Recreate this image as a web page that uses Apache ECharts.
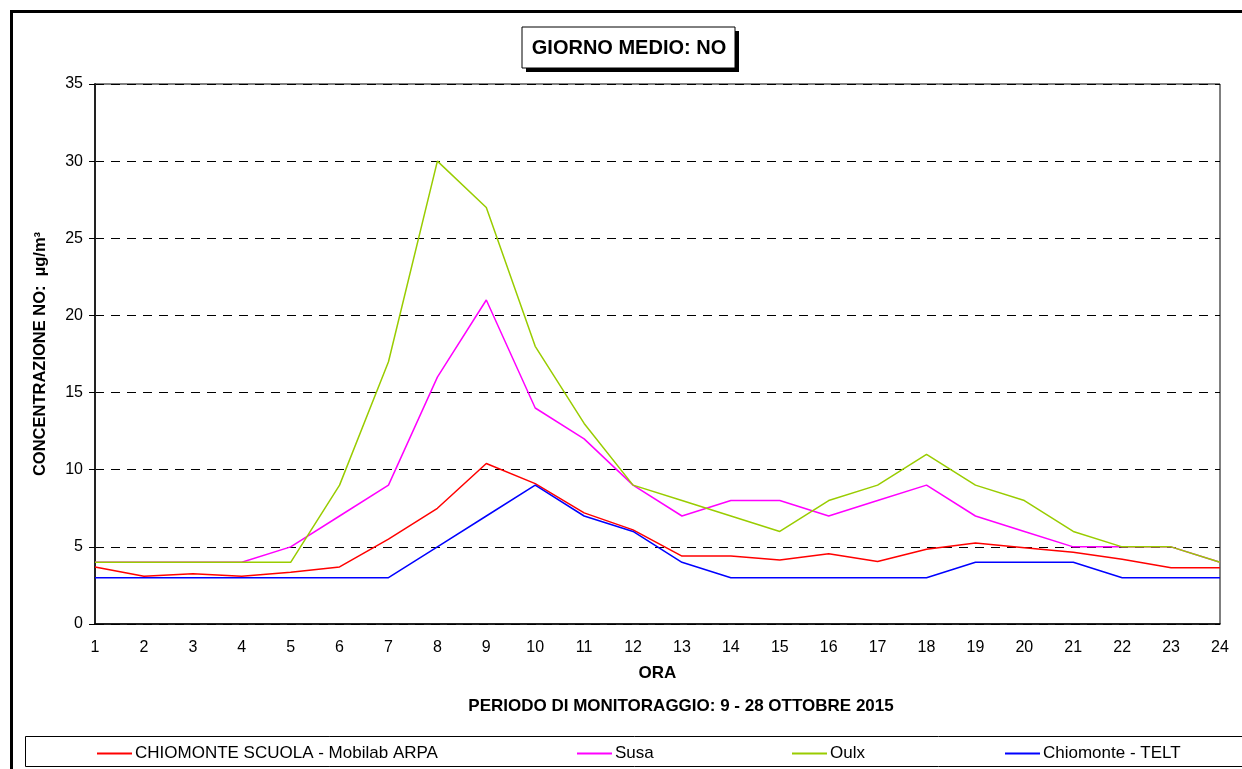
<!DOCTYPE html>
<html>
<head>
<meta charset="utf-8">
<script src="https://cdn.jsdelivr.net/npm/echarts@6/dist/echarts.min.js"></script>
<style>
  html, body { margin: 0; padding: 0; background: #fff; }
  #chartDom { width: 1242px; height: 769px; }
</style>
</head>
<body>
<div id="chartDom"></div>
<script>
// ore del giorno
const ore = ['1','2','3','4','5','6','7','8','9','10','11','12','13','14','15','16','17','18','19','20','21','22','23','24']

// giorno medio NO (µg/m3)
const chiomonteScuola = [3.7, 3.1, 3.25, 3.1, 3.35, 3.7, 5.5, 7.5, 10.4, 9.1, 7.2, 6.1, 4.4, 4.4, 4.15, 4.55, 4.05, 4.85, 5.25, 4.95, 4.65, 4.2, 3.65, 3.65]
const susa = [4, 4, 4, 4, 5, 7, 9, 16, 21, 14, 12, 9, 7, 8, 8, 7, 8, 9, 7, 6, 5, 5, 5, 4]
const oulx = [4, 4, 4, 4, 4, 9, 17, 30, 27, 18, 13, 9, 8, 7, 6, 8, 9, 11, 9, 8, 6, 5, 5, 4]
const chiomonteTelt = [3, 3, 3, 3, 3, 3, 3, 5, 7, 9, 7, 6, 4, 3, 3, 3, 3, 3, 4, 4, 4, 3, 3, 3]

const nomi = ['CHIOMONTE SCUOLA - Mobilab ARPA', 'Susa', 'Oulx', 'Chiomonte - TELT']
const colori = ['#ff0000', '#ff00ff', '#99cc00', '#0000ff']

const font = '"Liberation Sans", Arial, sans-serif'

function serie(name, data, color) {
  return {
    name: name,
    type: 'line',
    data: data,
    showSymbol: false,
    symbol: 'none',
    lineStyle: { color: color, width: 1.5 },
    itemStyle: { color: color },
    animation: false
  }
}

// una legenda per voce, come nel foglio originale
const legendLeft = [92, 572, 787, 1000]
const legende = nomi.map((n, i) => ({
  data: [n],
  left: legendLeft[i],
  top: 740,
  icon: 'rect',
  itemWidth: 35,
  itemHeight: 2,
  itemGap: 0,
  textStyle: { fontFamily: font, fontSize: 17, color: '#000', padding: [0, 0, 0, -2] },
  selectedMode: false
}))

var myChart = echarts.init(document.getElementById('chartDom'))

const option = {
  backgroundColor: '#fff',
  animation: false,
  legend: legende,
  grid: {
    left: 95,
    right: 22,
    top: 84,
    bottom: 145,
    show: true,
    borderColor: '#000',
    borderWidth: 1
  },
  xAxis: {
    type: 'category',
    boundaryGap: false,
    data: ore,
    name: 'ORA',
    nameLocation: 'middle',
    nameGap: 41,
    nameTextStyle: { fontFamily: font, fontSize: 17, fontWeight: 'bold', color: '#000' },
    axisLine: { lineStyle: { color: '#000', width: 1.5 } },
    axisTick: { show: false },
    axisLabel: { fontFamily: font, fontSize: 16, color: '#000', margin: 16 },
    splitLine: { show: false }
  },
  yAxis: {
    type: 'value',
    min: 0,
    max: 35,
    interval: 5,
    name: 'CONCENTRAZIONE NO:  µg/m³',
    nameLocation: 'middle',
    nameGap: 46,
    nameTextStyle: { fontFamily: font, fontSize: 16.5, fontWeight: 'bold', color: '#000' },
    axisLine: { show: true, lineStyle: { color: '#222', width: 2 } },
    axisTick: { show: true, length: 6, lineStyle: { color: '#000' } },
    axisLabel: { fontFamily: font, fontSize: 16, color: '#000', margin: 12 },
    splitLine: { show: true, lineStyle: { color: '#000', type: [9, 7], width: 1 } }
  },
  series: [
    serie(nomi[0], chiomonteScuola, colori[0]),
    serie(nomi[1], susa, colori[1]),
    serie(nomi[2], oulx, colori[2]),
    serie(nomi[3], chiomonteTelt, colori[3])
  ],
  graphic: [
    // cornice esterna
    { type: 'rect', left: 9, top: 9, shape: { width: 1300, height: 800 }, style: { fill: 'none', stroke: '#000', lineWidth: 3 }, silent: true, z: -1 },
    // box titolo con ombra
    { type: 'rect', x: 526, y: 31, shape: { width: 213, height: 41 }, style: { fill: '#000' }, silent: true },
    { type: 'rect', x: 522, y: 27, shape: { width: 213, height: 41 }, style: { fill: '#fff', stroke: '#000', lineWidth: 1 }, silent: true },
    { type: 'text', x: 629, y: 48, style: { text: 'GIORNO MEDIO: NO', fontFamily: font, fontSize: 20, fontWeight: 'bold', fill: '#000', align: 'center', verticalAlign: 'middle' }, silent: true },
    // periodo
    { type: 'text', x: 681, y: 706, style: { text: 'PERIODO DI MONITORAGGIO: 9 - 28 OTTOBRE 2015', fontFamily: font, fontSize: 17, fontWeight: 'bold', fill: '#000', align: 'center', verticalAlign: 'middle' }, silent: true },
    // box legenda
    { type: 'rect', x: 25.5, y: 736.5, shape: { width: 1220, height: 30 }, style: { fill: 'none', stroke: '#000', lineWidth: 1 }, silent: true }
  ]
}

option && myChart.setOption(option)
</script>
</body>
</html>
